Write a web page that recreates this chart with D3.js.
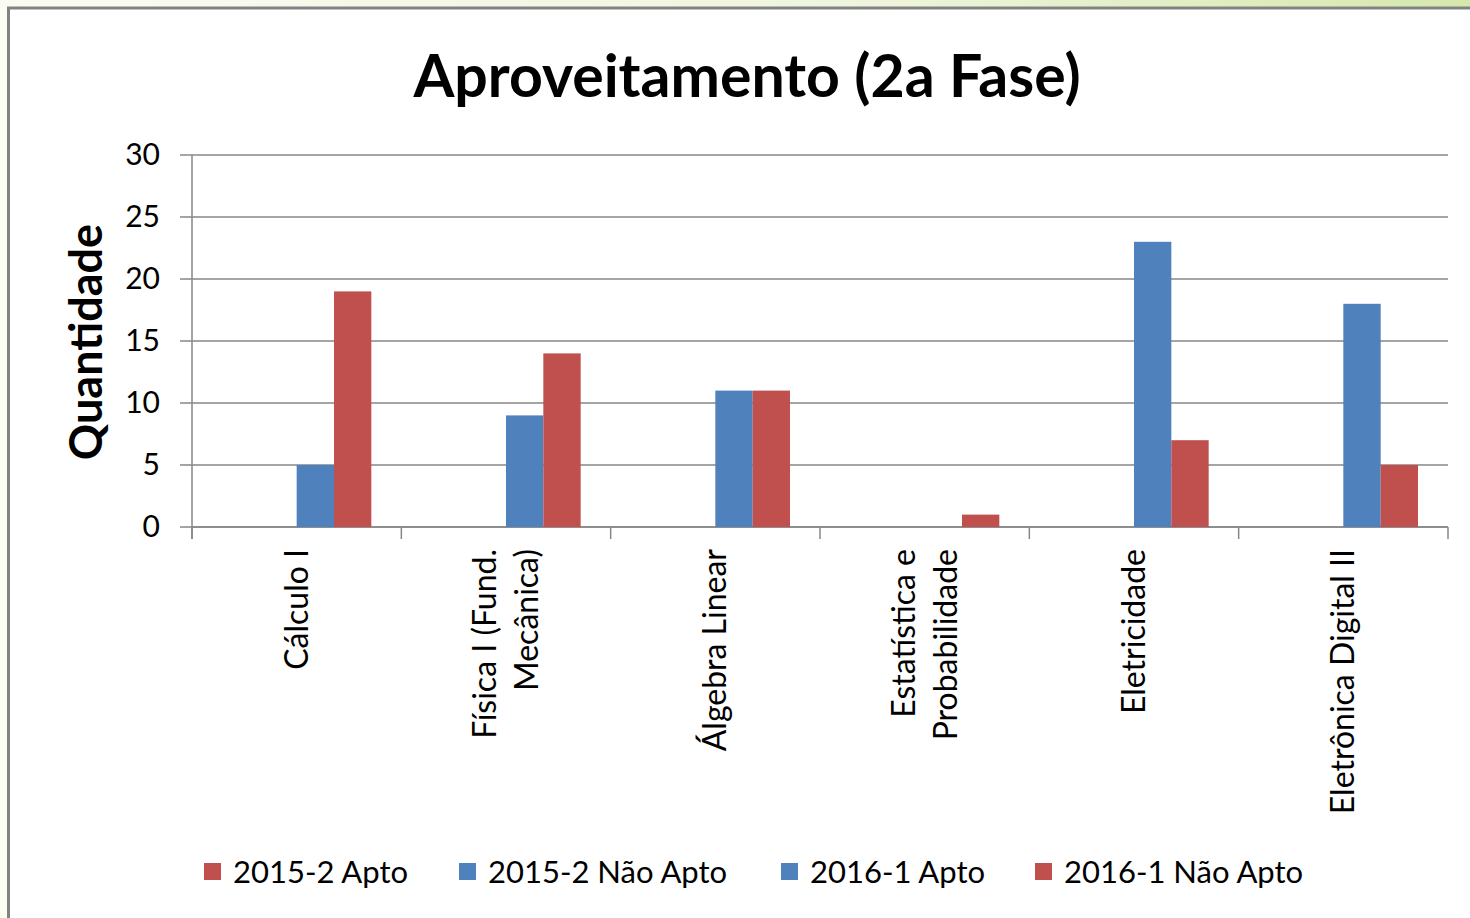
<!DOCTYPE html>
<html>
<head>
<meta charset="utf-8">
<script src="https://d3js.org/d3.v7.min.js"></script>
<style>
  html, body { margin: 0; padding: 0; background: #fbfcf4; overflow: hidden; }
  svg { display: block; }
  text { font-family: Lato, "Liberation Sans", sans-serif; fill: #000; }
</style>
</head>
<body>
<div id="chart"></div>
<script>
// data
const categories = [
  ["Cálculo I"],
  ["Física I (Fund.", "Mecânica)"],
  ["Álgebra Linear"],
  ["Estatística e", "Probabilidade"],
  ["Eletricidade"],
  ["Eletrônica Digital II"]
];
const seriesNames = ["2015-2 Apto", "2015-2 Não Apto", "2016-1 Apto", "2016-1 Não Apto"];
const seriesColors = ["#c0504d", "#4f81bd", "#4f81bd", "#c0504d"];
const apto2015 = [0, 0, 0, 0, 0, 0];
const naoApto2015 = [0, 0, 0, 0, 0, 0];
const apto2016 = [5, 9, 11, 0, 23, 18];
const naoApto2016 = [19, 14, 11, 1, 7, 5];
const yTicks = [0, 5, 10, 15, 20, 25, 30];

const seriesValues = [apto2015, naoApto2015, apto2016, naoApto2016];

const W = 1470, H = 918;
const svg = d3.select("#chart").append("svg").attr("width", W).attr("height", H);

// outer background strip at the top (greenish gradient)
const defs = svg.append("defs");
const grad = defs.append("linearGradient").attr("id", "topg").attr("x1", "0").attr("x2", "1");
grad.append("stop").attr("offset", "0").attr("stop-color", "#fafcf3");
grad.append("stop").attr("offset", "0.6").attr("stop-color", "#eef5dc");
grad.append("stop").attr("offset", "1").attr("stop-color", "#d6e7ad");
svg.append("rect").attr("x", 0).attr("y", 0).attr("width", W).attr("height", 8).attr("fill", "url(#topg)");

// chart frame
svg.append("rect")
  .attr("x", 8.5).attr("y", 8).attr("width", W + 20).attr("height", H + 20)
  .attr("fill", "#fff").attr("stroke", "#828282").attr("stroke-width", 3);

const plot = { left: 192, right: 1448, top: 155, bottom: 527 };

const x = d3.scaleBand()
  .domain(d3.range(categories.length))
  .range([plot.left, plot.right])
  .padding(0);

const gap = 30;
const xs = d3.scaleBand()
  .domain(d3.range(seriesNames.length))
  .range([gap, x.bandwidth() - gap]);

const y = d3.scaleLinear().domain([0, 30]).range([plot.bottom, plot.top]);

// gridlines
svg.append("g")
  .selectAll("line")
  .data(yTicks)
  .join("line")
  .attr("x1", plot.left - 12).attr("x2", plot.right)
  .attr("y1", d => y(d)).attr("y2", d => y(d))
  .attr("stroke", "#878787").attr("stroke-width", 1.5);

// y axis
const yAxis = svg.append("g")
  .attr("transform", `translate(${plot.left},0)`)
  .call(d3.axisLeft(y).tickValues(yTicks).tickSize(12).tickPadding(20));
yAxis.select(".domain").attr("stroke", "#878787").attr("stroke-width", 1.5)
  .attr("d", `M0,${plot.top}V${plot.bottom + 12}`);
yAxis.selectAll(".tick line").remove();
yAxis.selectAll(".tick text")
  .attr("font-family", "Lato, sans-serif")
  .attr("font-size", 30).attr("fill", "#000");

// x axis with category separators
const xAxis = svg.append("g").attr("transform", `translate(0,${plot.bottom})`);
xAxis.append("line")
  .attr("x1", plot.left).attr("x2", plot.right)
  .attr("stroke", "#878787").attr("stroke-width", 1.5);
xAxis.selectAll("line.sep")
  .data(d3.range(categories.length + 1))
  .join("line").attr("class", "sep")
  .attr("x1", d => plot.left + d * x.bandwidth())
  .attr("x2", d => plot.left + d * x.bandwidth())
  .attr("y1", 0).attr("y2", 12)
  .attr("stroke", "#878787").attr("stroke-width", 1.5);

// bars
const groups = svg.append("g")
  .selectAll("g")
  .data(categories.map((c, i) => i))
  .join("g")
  .attr("transform", i => `translate(${x(i)},0)`);

groups.selectAll("rect")
  .data(i => seriesValues.map((vals, s) => ({ s, v: vals[i] })))
  .join("rect")
  .attr("x", d => xs(d.s))
  .attr("width", xs.bandwidth())
  .attr("y", d => y(d.v))
  .attr("height", d => y(0) - y(d.v))
  .attr("fill", d => seriesColors[d.s]);

// category labels, rotated
const lineH = 42;
categories.forEach((lines, i) => {
  const cx = x(i) + x.bandwidth() / 2;
  const n = lines.length;
  lines.forEach((ln, j) => {
    const off = (j - (n - 1) / 2) * lineH;
    svg.append("text")
      .attr("transform", `translate(${cx + off + 11},${plot.bottom + 22}) rotate(-90)`)
      .attr("text-anchor", "end")
      .attr("font-size", 32)
      .text(ln);
  });
});

// title
svg.append("text")
  .attr("x", 747).attr("y", 97)
  .attr("text-anchor", "middle")
  .attr("font-size", 59).attr("font-weight", 700)
  .text("Aproveitamento (2a Fase)");

// y axis title
svg.append("text")
  .attr("transform", "translate(102,342) rotate(-90)")
  .attr("text-anchor", "middle")
  .attr("font-size", 45).attr("font-weight", 700)
  .text("Quantidade");

// legend
const legendX = [204, 459, 781, 1035];
const legend = svg.append("g")
  .selectAll("g")
  .data(seriesNames)
  .join("g")
  .attr("transform", (d, i) => `translate(${legendX[i]},863)`);
legend.append("rect")
  .attr("width", 17).attr("height", 17)
  .attr("fill", (d, i) => seriesColors[i]);
legend.append("text")
  .attr("x", 29).attr("y", 20)
  .attr("font-size", 31)
  .text(d => d);
</script>
</body>
</html>
